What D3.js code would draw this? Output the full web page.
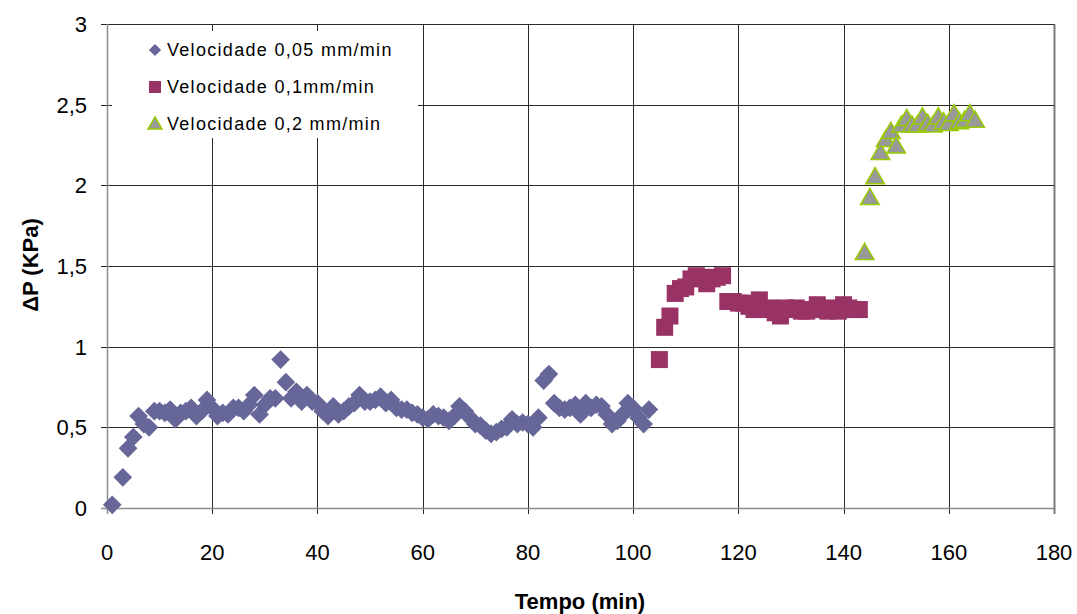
<!DOCTYPE html>
<html><head><meta charset="utf-8">
<script src="https://cdn.jsdelivr.net/npm/d3@7"></script>
<style>body{margin:0;background:#fff}</style>
</head><body><svg id="c" width="1077" height="614"></svg>
<script>
// Series 1: Velocidade 0,05 mm/min
const tempo1 = [1,3,4,5,6,7,8,9,10,11,12,13,14,15,16,17,18,19,20,21,22,23,24,25,26,27,28,29,30,31,32,33,34,35,36,37,38,39,40,41,42,43,44,45,46,47,48,49,50,51,52,53,54,55,56,57,58,59,60,61,62,63,64,65,66,67,68,69,70,71,72,73,74,75,76,77,78,79,80,81,82,83,84,85,86,87,88,89,90,91,92,93,94,95,96,97,98,99,100,101,102,103];
const dp1 = [0.02,0.19,0.37,0.44,0.57,0.52,0.50,0.60,0.60,0.59,0.61,0.55,0.59,0.60,0.62,0.57,0.60,0.67,0.62,0.57,0.59,0.58,0.62,0.62,0.60,0.64,0.70,0.58,0.64,0.68,0.68,0.92,0.78,0.68,0.72,0.66,0.70,0.66,0.65,0.60,0.57,0.63,0.58,0.60,0.63,0.65,0.70,0.66,0.66,0.67,0.69,0.65,0.67,0.62,0.61,0.61,0.59,0.58,0.56,0.55,0.58,0.57,0.56,0.54,0.57,0.63,0.60,0.56,0.52,0.51,0.48,0.46,0.47,0.49,0.50,0.55,0.52,0.53,0.52,0.50,0.56,0.79,0.83,0.65,0.62,0.61,0.62,0.64,0.58,0.65,0.62,0.64,0.63,0.58,0.52,0.54,0.58,0.65,0.62,0.56,0.52,0.61];
// Series 2: Velocidade 0,1mm/min
const tempo2 = [105,106,107,108,109,110,111,112,113,114,115,116,117,118,119,120,121,122,123,124,125,126,127,128,129,130,131,132,133,134,135,136,137,138,139,140,141,142,143];
const dp2 = [0.92,1.12,1.19,1.33,1.36,1.37,1.42,1.44,1.43,1.39,1.42,1.43,1.44,1.28,1.28,1.27,1.27,1.25,1.23,1.29,1.23,1.24,1.21,1.19,1.24,1.23,1.24,1.22,1.22,1.23,1.26,1.23,1.22,1.24,1.22,1.26,1.24,1.23,1.23];
// Series 3: Velocidade 0,2 mm/min
const tempo3 = [144,145,146,147,148,149,150,151,152,153,154,155,156,157,158,159,160,161,162,163,164,165];
const dp3 = [1.58,1.92,2.05,2.20,2.28,2.33,2.24,2.37,2.41,2.37,2.37,2.42,2.38,2.37,2.42,2.39,2.38,2.44,2.39,2.40,2.44,2.40];

const xTicks = [0,20,40,60,80,100,120,140,160,180];
const yTicks = [0,0.5,1,1.5,2,2.5,3];
const legendLabels = ["Velocidade 0,05 mm/min","Velocidade 0,1mm/min","Velocidade 0,2 mm/min"];
const xTitle = "Tempo (min)";
const yTitle = "\u0394P (KPa)";

const svg = d3.select("#c");
const L = 107, R = 1054, T = 24, B = 508;
const x = d3.scaleLinear().domain([0,180]).range([L,R]);
const y = d3.scaleLinear().domain([0,3]).range([B,T]);
const fmt = d => String(d).replace(".", ",");
const font = "'Liberation Sans', Arial, sans-serif";
const px = v => Math.round(v) + 0.5;

// grid
const g = svg.append("g");
g.selectAll("line.vg").data(xTicks.filter(d=>d>0)).enter().append("line")
  .attr("x1",d=>px(x(d))).attr("x2",d=>px(x(d))).attr("y1",T).attr("y2",B+6)
  .attr("stroke", d=>d===180?"#7a7a7a":"#2a2a2a").attr("stroke-width",d=>d===180?2:1);
g.selectAll("line.hg").data(yTicks.filter(d=>d>0)).enter().append("line")
  .attr("x1",L-6).attr("x2",R).attr("y1",d=>px(y(d))).attr("y2",d=>px(y(d)))
  .attr("stroke","#2a2a2a").attr("stroke-width",1);
// axes
g.append("line").attr("x1",L-6).attr("x2",R).attr("y1",px(B)).attr("y2",px(B))
  .attr("stroke","#8c8c8c").attr("stroke-width",1.5);
g.append("line").attr("x1",px(L)).attr("x2",px(L)).attr("y1",T).attr("y2",B+6)
  .attr("stroke","#8c8c8c").attr("stroke-width",1.5);

// tick labels
svg.selectAll("text.xl").data(xTicks).enter().append("text")
  .attr("x",d=>x(d)).attr("y",560).attr("text-anchor","middle")
  .attr("font-family",font).attr("font-size",22).attr("fill","#000").text(d=>d);
svg.selectAll("text.yl").data(yTicks).enter().append("text")
  .attr("x",87).attr("y",d=>y(d)+8).attr("text-anchor","end")
  .attr("font-family",font).attr("font-size",22).attr("fill","#000").text(fmt);

// titles
svg.append("text").attr("x",580).attr("y",609).attr("text-anchor","middle")
  .attr("font-family",font).attr("font-size",22).attr("font-weight","bold").text(xTitle);
svg.append("text").attr("transform","translate(38,265) rotate(-90)").attr("text-anchor","middle")
  .attr("font-family",font).attr("font-size",22).attr("font-weight","bold").text(yTitle);

// markers
const diamond = d3.symbol().type(d3.symbolSquare).size(175);
const plot = svg.append("g");
plot.selectAll("path.s1").data(tempo1.map((t,i)=>[t,dp1[i]])).enter().append("path")
  .attr("d", diamond).attr("transform",d=>`translate(${x(d[0])},${y(d[1])}) rotate(45)`)
  .attr("fill","#666699");
plot.selectAll("rect.s2").data(tempo2.map((t,i)=>[t,dp2[i]])).enter().append("rect")
  .attr("x",d=>x(d[0])-8.5).attr("y",d=>y(d[1])-8.5).attr("width",17).attr("height",17)
  .attr("fill","#993366");
const tri = d3.symbol().type(d3.symbolTriangle).size(150);
plot.selectAll("path.s3").data(tempo3.map((t,i)=>[t,dp3[i]])).enter().append("path")
  .attr("d", tri).attr("transform",d=>`translate(${x(d[0])},${y(d[1])+1})`)
  .attr("fill","#999999").attr("stroke","#99cc00").attr("stroke-width",1.5);

// legend
const lg = svg.append("g");
lg.append("rect").attr("x",112).attr("y",31).attr("width",306).attr("height",107).attr("fill","#fff");
const rows = [50, 87, 124];
lg.append("path").attr("d", d3.symbol().type(d3.symbolSquare).size(75)).attr("transform",`translate(155,${rows[0]}) rotate(45)`).attr("fill","#666699");
lg.append("rect").attr("x",149).attr("y",rows[1]-6).attr("width",12).attr("height",12).attr("fill","#993366");
lg.append("path").attr("d", d3.symbol().type(d3.symbolTriangle).size(85)).attr("transform",`translate(155,${rows[2]+1})`).attr("fill","#999999").attr("stroke","#99cc00").attr("stroke-width",1.5);
lg.selectAll("text.lg").data(legendLabels).enter().append("text")
  .attr("x",167).attr("y",(d,i)=>rows[i]+6).attr("font-family",font).attr("font-size",18)
  .attr("letter-spacing","1.3px").attr("fill","#000").text(d=>d);
</script></body></html>
